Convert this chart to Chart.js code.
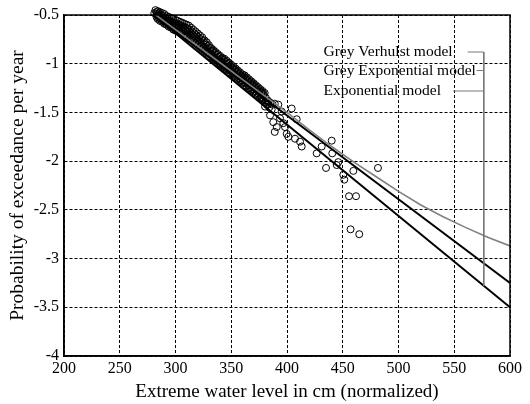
<!DOCTYPE html>
<html>
<head>
<meta charset="utf-8">
<script src="https://cdn.jsdelivr.net/npm/chart.js@4"></script>
<style>html,body{margin:0;background:#fff}</style>
</head>
<body>
<div style="width:530px;height:404px"><canvas id="c" width="530" height="404"></canvas></div>
<script>
// observed extremes: [water level (cm), log10 probability of exceedance]
const observed = [
  // dense part, centre
  [281,-0.48],[283,-0.49],[285,-0.50],[287,-0.52],[289,-0.53],[291,-0.55],[293,-0.56],[295,-0.58],[297,-0.59],[299,-0.60],
  [301,-0.61],[303,-0.62],[305,-0.63],[307,-0.64],[309,-0.66],[311,-0.67],[313,-0.68],[315,-0.70],[317,-0.72],[319,-0.74],
  [321,-0.76],[323,-0.78],[325,-0.80],[327,-0.83],[329,-0.85],[331,-0.87],[333,-0.90],[335,-0.92],[337,-0.94],[339,-0.96],
  [341,-0.98],[343,-0.99],[345,-1.01],[347,-1.03],[349,-1.04],[351,-1.06],[353,-1.08],[355,-1.10],[357,-1.12],[359,-1.14],
  [361,-1.16],[363,-1.17],[365,-1.19],[367,-1.21],[369,-1.23],[371,-1.25],[373,-1.27],[375,-1.29],[377,-1.31],[379,-1.33],
  [381,-1.35],[383,-1.38],[385,-1.40],[387,-1.42],
  // dense part, just above centre
  [283,-0.47],[285,-0.48],[287,-0.50],[289,-0.51],[291,-0.53],[293,-0.54],[295,-0.56],[297,-0.57],[299,-0.58],[301,-0.59],
  [303,-0.60],[305,-0.61],[307,-0.62],[309,-0.63],[311,-0.64],[313,-0.65],[315,-0.67],[317,-0.69],[319,-0.71],[321,-0.73],
  [323,-0.75],[325,-0.77],[327,-0.80],[329,-0.82],[331,-0.84],[333,-0.87],[335,-0.89],[337,-0.91],[339,-0.93],[341,-0.95],
  [343,-0.96],[345,-0.98],[347,-1.00],[349,-1.02],[351,-1.04],[353,-1.06],[355,-1.08],[357,-1.10],[359,-1.12],[361,-1.13],
  [363,-1.15],[365,-1.17],[367,-1.19],[369,-1.21],[371,-1.23],[373,-1.25],[375,-1.27],[377,-1.29],[379,-1.31],
  // dense part, just below centre
  [283,-0.52],[285,-0.53],[287,-0.55],[289,-0.56],[291,-0.58],[293,-0.59],[295,-0.61],[297,-0.62],[299,-0.63],[301,-0.64],
  [303,-0.65],[305,-0.66],[307,-0.67],[309,-0.69],[311,-0.70],[313,-0.71],[315,-0.73],[317,-0.75],[319,-0.77],[321,-0.79],
  [323,-0.81],[325,-0.83],[327,-0.86],[329,-0.88],[331,-0.90],[333,-0.93],[335,-0.95],[337,-0.97],[339,-0.99],[341,-1.01],
  [343,-1.02],[345,-1.04],[347,-1.06],[349,-1.07],[351,-1.09],[353,-1.11],[355,-1.13],[357,-1.15],[359,-1.17],[361,-1.19],
  [363,-1.20],[365,-1.22],[367,-1.24],[369,-1.26],[371,-1.28],[373,-1.30],[375,-1.32],[377,-1.34],[379,-1.36],[381,-1.38],
  [383,-1.41],
  // dense part, upper edge
  [282,-0.45],[284,-0.46],[286,-0.47],[288,-0.48],[290,-0.49],[292,-0.51],[294,-0.52],[296,-0.53],[298,-0.54],[300,-0.55],
  [302,-0.56],[304,-0.57],[306,-0.58],[308,-0.59],[310,-0.60],[312,-0.61],[314,-0.63],[316,-0.65],[318,-0.67],[320,-0.69],
  [322,-0.71],[324,-0.73],[326,-0.76],[328,-0.78],[330,-0.81],[332,-0.84],[334,-0.86],[336,-0.88],[338,-0.90],[340,-0.92],
  [342,-0.94],[344,-0.95],[346,-0.97],[348,-0.99],[350,-1.01],[352,-1.03],[354,-1.05],[356,-1.07],[358,-1.09],[360,-1.11],
  [362,-1.12],[364,-1.14],[366,-1.16],[368,-1.18],[370,-1.20],[372,-1.22],[374,-1.24],[376,-1.26],[378,-1.28],[380,-1.30],
  // dense part, lower edge
  [284,-0.54],[286,-0.56],[288,-0.57],[290,-0.59],[292,-0.60],[294,-0.62],[296,-0.63],[298,-0.65],[300,-0.66],[302,-0.67],
  [304,-0.68],[306,-0.69],[308,-0.71],[310,-0.72],[312,-0.74],[314,-0.75],[316,-0.77],[318,-0.79],[320,-0.81],[322,-0.83],
  [324,-0.85],[326,-0.87],[328,-0.89],[330,-0.92],[332,-0.94],[334,-0.96],[336,-0.98],[338,-1.00],[340,-1.02],[342,-1.03],
  [344,-1.05],[346,-1.07],[348,-1.09],[350,-1.10],[352,-1.12],[354,-1.14],[356,-1.16],[358,-1.18],[360,-1.20],[362,-1.22],
  [364,-1.23],[366,-1.25],[368,-1.27],[370,-1.29],[372,-1.31],[374,-1.33],[376,-1.35],[378,-1.37],[380,-1.40],[382,-1.42],
  [384,-1.45],
  // sparse tail
  [377.3,-1.36],[383.2,-1.39],[392.2,-1.42],[395.2,-1.49],[386.3,-1.47],[380.3,-1.44],[393.7,-1.56],[396.7,-1.61],
  [398.2,-1.65],[389,-1.41],[384.8,-1.53],[387.7,-1.60],[390.8,-1.65],[389,-1.70],[399.7,-1.72],[401.2,-1.75],
  [404.2,-1.46],[408.7,-1.57],[407.2,-1.77],[411.7,-1.80],[413.2,-1.85],[426.6,-1.92],[431.1,-1.85],[440.1,-1.79],
  [440.6,-1.92],[435,-2.07],[446,-2.01],[444.6,-2.04],[450.5,-2.14],[451.4,-2.19],[459.5,-2.10],[481.6,-2.07],
  [455.6,-2.36],[461.9,-2.36],[457,-2.70],[464.8,-2.75]
];

const expX = [280, 600];
const expY = [-0.5, -3.5];
const greyExpX = [280, 600];
const greyExpY = [-0.5, -3.25];
const verhulstX = [280, 300, 320, 340, 360, 380, 400, 420, 440, 460, 480, 500, 520, 540, 560, 580, 600];
const verhulstY = [-0.48, -0.65, -0.82, -0.99, -1.16, -1.33, -1.50, -1.68, -1.85, -2.01, -2.16, -2.31, -2.45, -2.57, -2.68, -2.78, -2.87];

const modelNames = ['Grey Verhulst model', 'Grey Exponential model', 'Exponential model'];
// leader lines of the labels, in data units
const leaderY = [-0.88, -1.07, -1.28];
const leaderStartX = [562, 570, 549];
const leaderJoinX = 576.5;
const leaderBottomY = -3.28;
const labelX = 432.7;

const pts = (xs, ys) => xs.map((v, i) => ({x: v, y: ys[i]}));
const serif = '"Liberation Serif", "Times New Roman", serif';
Chart.defaults.color = '#000';
Chart.defaults.font.family = serif;

const leaderSets = leaderY.map((ly, i) => ({
  data: [{x: leaderStartX[i], y: ly}, {x: leaderJoinX, y: ly}],
  showLine: true, borderColor: '#777', borderWidth: 1, pointRadius: 0, order: 0
}));
leaderSets.push({
  data: [{x: leaderJoinX, y: leaderY[0]}, {x: leaderJoinX, y: leaderBottomY}],
  showLine: true, borderColor: '#777', borderWidth: 1, pointRadius: 0, order: 0
});

const frameAndLabels = {
  id: 'frameAndLabels',
  afterDatasetsDraw(chart) {
    const {ctx, chartArea: a, scales: {x, y}} = chart;
    ctx.save();
    ctx.strokeStyle = '#000';
    ctx.lineWidth = 1.5;
    ctx.strokeRect(a.left, a.top, a.right - a.left, a.bottom - a.top);
    ctx.fillStyle = '#000';
    ctx.font = '15.5px ' + serif;
    ctx.textBaseline = 'middle';
    modelNames.forEach((name, i) => {
      ctx.fillText(name, x.getPixelForValue(labelX), y.getPixelForValue(leaderY[i]));
    });
    ctx.restore();
  }
};

new Chart(document.getElementById('c'), {
  type: 'scatter',
  data: {
    datasets: [
      ...leaderSets,
      {label: modelNames[0], data: pts(verhulstX, verhulstY), showLine: true, borderColor: '#808080', borderWidth: 1.6, pointRadius: 0, order: 1},
      {label: modelNames[1], data: pts(greyExpX, greyExpY), showLine: true, borderColor: '#000', borderWidth: 2, pointRadius: 0, order: 2},
      {label: modelNames[2], data: pts(expX, expY), showLine: true, borderColor: '#000', borderWidth: 2, pointRadius: 0, order: 3},
      {label: 'observed', data: observed.map(p => ({x: p[0], y: p[1]})), pointRadius: 3.5, pointBorderWidth: 1,
        pointBorderColor: '#000', pointBackgroundColor: 'rgba(0,0,0,0)', clip: false, order: 10}
    ]
  },
  options: {
    responsive: false,
    animation: false,
    devicePixelRatio: 1,
    layout: {padding: {left: 0, right: 20, top: 15, bottom: 0}},
    plugins: {legend: {display: false}, tooltip: {enabled: false}},
    scales: {
      x: {
        min: 200, max: 600,
        ticks: {stepSize: 50, font: {size: 16}, padding: 3, maxRotation: 0},
        grid: {color: '#000', lineWidth: 1, drawTicks: false},
        border: {color: '#000', width: 1.5, dash: [3, 2]},
        title: {display: true, text: 'Extreme water level in cm (normalized)', font: {size: 19}, padding: {top: 0, bottom: 1}},
        afterFit: s => { s.height = 48; }
      },
      y: {
        min: -4, max: -0.5,
        ticks: {stepSize: 0.5, font: {size: 16}, padding: 5, callback: v => String(v)},
        grid: {color: '#000', lineWidth: 1, drawTicks: false},
        border: {color: '#000', width: 1.5, dash: [3, 2]},
        title: {display: true, text: 'Probability of exceedance per year', font: {size: 19.5}, padding: {top: 6, bottom: 0}},
        afterFit: s => { s.width = 64; }
      }
    }
  },
  plugins: [frameAndLabels]
});
</script>
</body>
</html>
